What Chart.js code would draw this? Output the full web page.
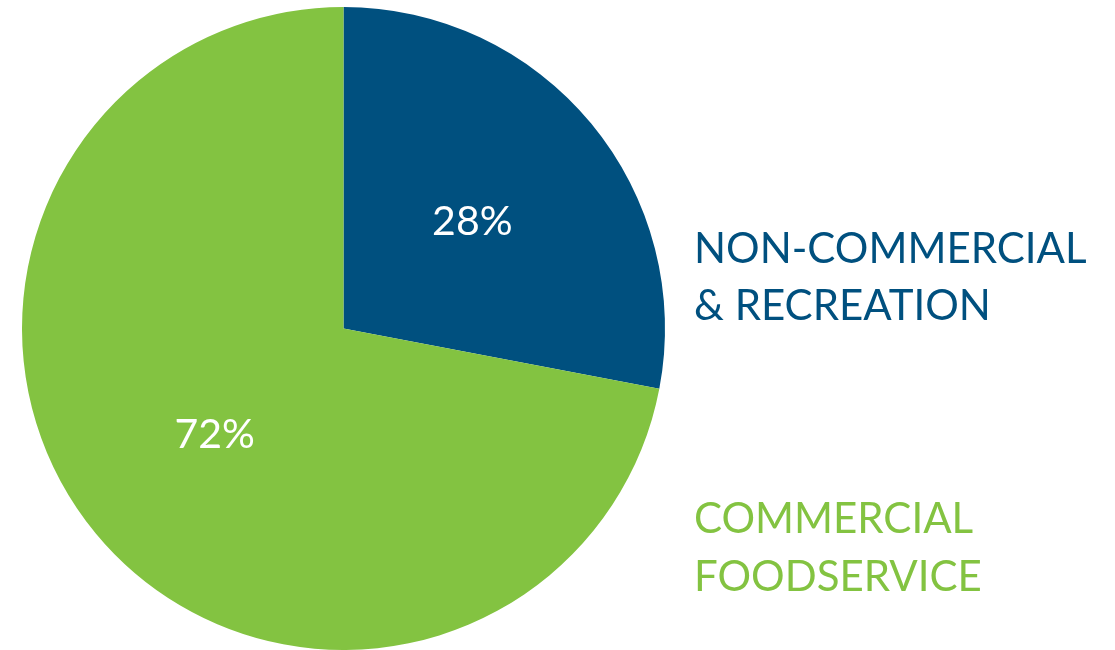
<!DOCTYPE html>
<html lang="en">
  <head>
    <meta charset="UTF-8" />
    <title>Foodservice Share</title>
    <script src="https://cdn.jsdelivr.net/npm/chart.js"></script>
    <style>
      html, body { margin: 0; padding: 0; background: #fff; }
      #wrap { position: relative; width: 1115px; height: 650px; }
    </style>
  </head>
  <body>
    <div id="wrap"><canvas id="shareChart"></canvas></div>

    <script>
      const segments = ["NON-COMMERCIAL & RECREATION", "COMMERCIAL FOODSERVICE"];
      const sideLines = [["NON-COMMERCIAL", "& RECREATION"], ["COMMERCIAL", "FOODSERVICE"]];
      const shares = [28, 72];
      const colors = ["#00507F", "#83C341"];

      const FONT = "Lato, 'Open Sans', sans-serif";

      // percentage inside each slice + stacked names on the right
      const sliceText = {
        id: "sliceText",
        afterDatasetsDraw(chart) {
          const ctx = chart.ctx;
          const meta = chart.getDatasetMeta(0);
          ctx.save();
          ctx.fillStyle = "#ffffff";
          ctx.font = "41px " + FONT;
          ctx.textAlign = "center";
          ctx.textBaseline = "middle";
          meta.data.forEach((arc, i) => {
            const p = arc.getProps(["x", "y", "startAngle", "endAngle", "outerRadius"], true);
            const mid = (p.startAngle + p.endAngle) / 2;
            const r = p.outerRadius * 0.52;
            ctx.fillText(shares[i] + "%", p.x + Math.cos(mid) * r, p.y + Math.sin(mid) * r);
          });

          ctx.textAlign = "left";
          ctx.textBaseline = "alphabetic";
          ctx.font = "42px " + FONT;
          const baselines = [[263, 320], [533, 591]];
          sideLines.forEach((lines, i) => {
            ctx.fillStyle = colors[i];
            lines.forEach((t, j) => ctx.fillText(t, 694, baselines[i][j]));
          });
          ctx.restore();
        }
      };

      new Chart(document.getElementById("shareChart"), {
        type: "pie",
        data: {
          labels: segments,
          datasets: [
            {
              data: shares,
              backgroundColor: colors,
              borderWidth: 0
            }
          ]
        },
        options: {
          responsive: true,
          maintainAspectRatio: false,
          animation: false,
          layout: { padding: { left: 22, top: 7, right: 450, bottom: 0 } },
          plugins: {
            legend: { display: false },
            tooltip: { enabled: false }
          }
        },
        plugins: [sliceText]
      });
    </script>
  </body>
</html>
